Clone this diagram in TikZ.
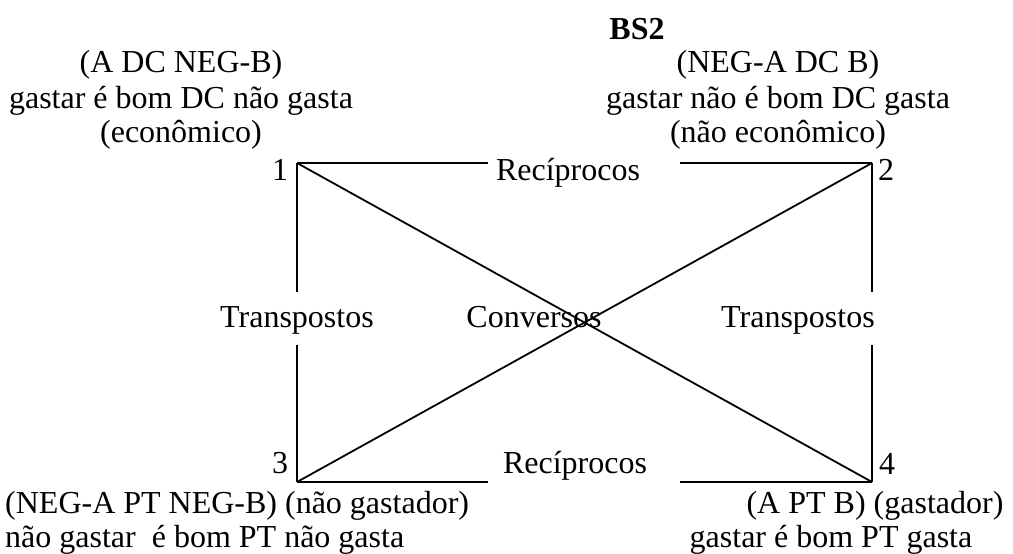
\documentclass[tikz,border=0pt]{standalone}
\usepackage{fontspec}
\setmainfont{Liberation Serif}
\begin{document}
\begin{tikzpicture}[x=1pt,y=-1pt,
  txt/.style={inner sep=0pt,font=\fontsize{32}{36}\selectfont},
  ln/.style={line width=1.8pt}]
\useasboundingbox (0,0) rectangle (1013,554);
% corners
\coordinate (c1) at (297,163);
\coordinate (c2) at (872,163);
\coordinate (c3) at (297,482);
\coordinate (c4) at (872,482);
% gap ends
\coordinate (t1) at (488,163);
\coordinate (t2) at (680,163);
\coordinate (b1) at (488,482);
\coordinate (b2) at (680,482);
\coordinate (l1) at (297,292);
\coordinate (l2) at (297,345);
\coordinate (r1) at (872,292);
\coordinate (r2) at (872,345);
% title
\node[txt,anchor=base,font=\fontsize{32}{36}\selectfont\bfseries] (title) at (637,39) {BS2};
% top-left block
\node[txt,anchor=base] (tl1) at (181,72) {(A DC NEG-B)};
\node[txt,anchor=base] (tl2) at (181,108) {gastar é bom DC não gasta};
\node[txt,anchor=base] (tl3) at (181,142) {(econômico)};
% top-right block
\node[txt,anchor=base] (tr1) at (778,72) {(NEG-A DC B)};
\node[txt,anchor=base] (tr2) at (778,108) {gastar não é bom DC gasta};
\node[txt,anchor=base] (tr3) at (778,142) {(não econômico)};
% bottom-left block
\node[txt,anchor=base west] (bl1) at (5,513) {(NEG-A PT NEG-B) (não gastador)};
\node[txt,anchor=base west] (bl2) at (5,547) {não gastar\ \ é bom PT não gasta};
% bottom-right block
\node[txt,anchor=base] (br1) at (875,513) {(A PT B) (gastador)};
\node[txt,anchor=base] (br2) at (831,547) {gastar é bom PT gasta};
% corner numbers
\node[txt,anchor=base] (n1) at (280,180) {1};
\node[txt,anchor=base] (n2) at (886,180) {2};
\node[txt,anchor=base] (n3) at (280,473) {3};
\node[txt,anchor=base] (n4) at (887,474) {4};
% relation labels
\node[txt,anchor=base] (rtop) at (568,180) {Recíprocos};
\node[txt,anchor=base] (rbot) at (575,473) {Recíprocos};
\node[txt,anchor=base] (tleft) at (297,327) {Transpostos};
\node[txt,anchor=base] (tright) at (798,327) {Transpostos};
\node[txt,anchor=base] (conv) at (534,327) {Conversos};
% lines
\draw[ln] (c1) -- (t1);
\draw[ln] (t2) -- (c2);
\draw[ln] (c3) -- (b1);
\draw[ln] (b2) -- (c4);
\draw[ln] (c1) -- (l1);
\draw[ln] (l2) -- (c3);
\draw[ln] (c2) -- (r1);
\draw[ln] (r2) -- (c4);
\draw[ln] (c1) -- (c4);
\draw[ln] (c3) -- (c2);
\end{tikzpicture}
\end{document}
